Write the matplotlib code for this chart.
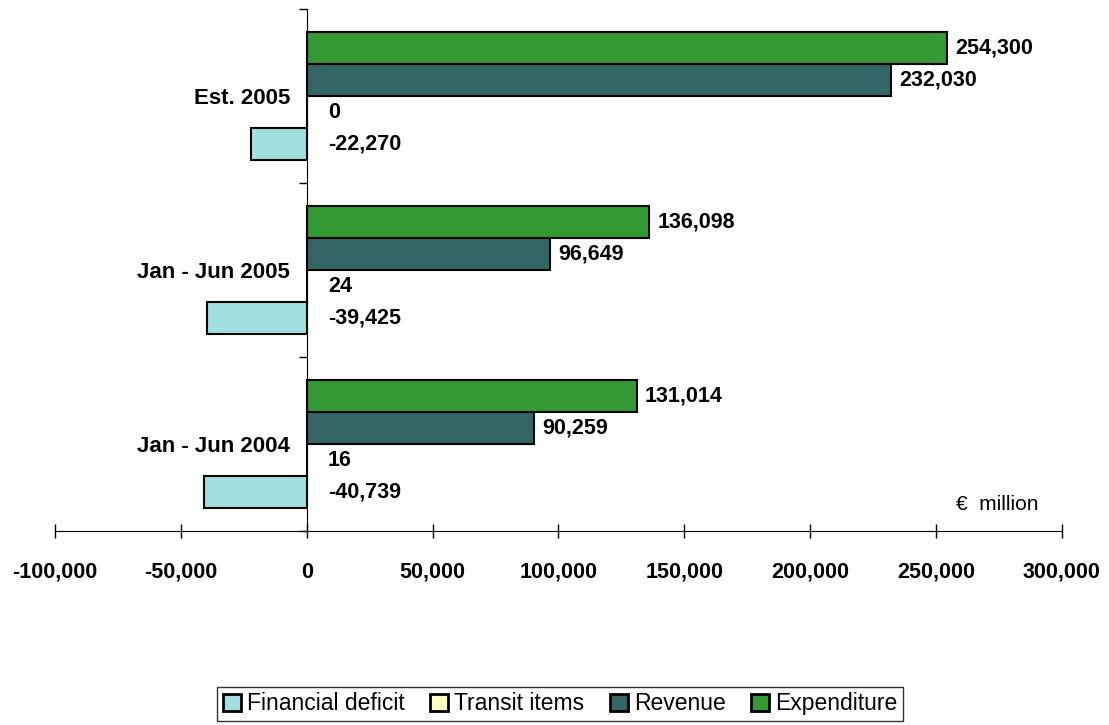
import matplotlib.pyplot as plt
import numpy as np
from matplotlib.ticker import FuncFormatter, FixedLocator

plt.rcParams['font.family'] = ['Liberation Sans', 'DejaVu Sans']

periods = ['Jan - Jun 2004', 'Jan - Jun 2005', 'Est. 2005']
series = ['Financial deficit', 'Transit items', 'Revenue', 'Expenditure']
financial_deficit = [-40739, -39425, -22270]
transit_items = [16, 24, 0]
revenue = [90259, 96649, 232030]
expenditure = [131014, 136098, 254300]
colors = ['#A0E0E0', '#FFFFC0', '#336666', '#339933']

values = [financial_deficit, transit_items, revenue, expenditure]
offsets = [-0.2775, -0.0925, 0.0925, 0.2775]
height = 0.185

fig = plt.figure(figsize=(11.09, 7.25), dpi=100)
ax = fig.add_axes([0.0496, 0.2676, 0.908, 0.72])

y = np.arange(len(periods))
for vals, off, col, name in zip(values, offsets, colors, series):
    ax.barh(y + off, vals, height=height, color=col, edgecolor='black',
            linewidth=1.5, label=name)
    for yy, v in zip(y + off, vals):
        pad = 8 if v > 1000 else 21
        ax.annotate(f'{v:,}', xy=(max(v, 0), yy), xytext=(pad, 0),
                    textcoords='offset pixels', ha='left', va='center',
                    fontsize=15.5, fontweight='bold')

ax.set_xlim(-100000, 300000)
ax.set_ylim(-0.5, 2.5)
ax.xaxis.set_major_locator(FixedLocator(np.arange(-100000, 300001, 50000)))
ax.xaxis.set_major_formatter(FuncFormatter(lambda v, p: f'{int(v):,}'))
ax.tick_params(axis='x', direction='inout', length=10, width=1, pad=17,
               labelsize=15.5)
for t in ax.get_xticklabels():
    t.set_fontweight('bold')

ax.spines['left'].set_position(('data', 0))
ax.spines['right'].set_visible(False)
ax.spines['top'].set_visible(False)
ax.set_yticks([-0.5, 0.5, 1.5, 2.5])
ax.set_yticklabels([])
ax.set_yticks(y, minor=True)
ax.set_yticklabels(periods, minor=True, fontsize=16, fontweight='bold')
ax.tick_params(axis='y', which='major', direction='out', length=6, width=1)
ax.tick_params(axis='y', which='minor', length=0, pad=12)

ax.text(1038, 725 - 505, '€  million', transform=None, ha='right',
        va='center', fontsize=15)

handles, labels = ax.get_legend_handles_labels()
leg = fig.legend(handles, labels, loc='center', bbox_to_anchor=(0.505, 0.029),
                 ncol=4, fontsize=16.5, frameon=True, fancybox=False,
                 handlelength=0.8, handleheight=0.8, handletextpad=0.26,
                 columnspacing=1.1, borderpad=0.25, borderaxespad=0)
leg.get_frame().set_edgecolor('black')
leg.get_frame().set_linewidth(1)
for h in leg.legend_handles:
    h.set_linewidth(2)

fig.savefig('out.png', dpi=100)
